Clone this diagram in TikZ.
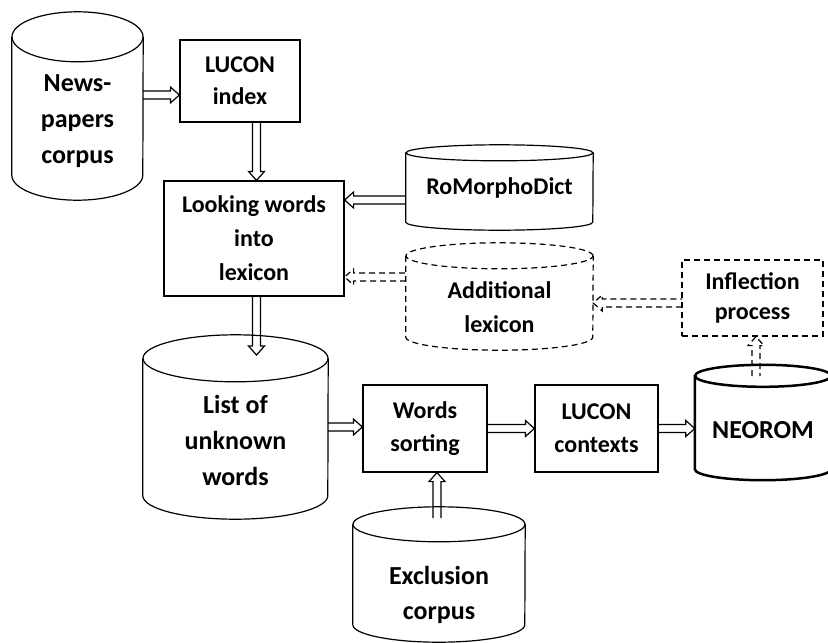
\documentclass[tikz,border=0pt]{standalone}
\usepackage{fontspec}
\setmainfont{Carlito}
\usetikzlibrary{calc}
\tikzset{
  box/.style       = {draw,line width=1.2pt,align=center,inner sep=0pt},
  maybe/.style     = {dash pattern=on 6pt off 4pt},
  big/.style       = {font=\bfseries\fontsize{26}{36}\selectfont},
  mid/.style       = {font=\bfseries\fontsize{24}{33}\selectfont},
  drumline/.style  = {line width=1.2pt},
  drumtext/.style  = {align=center,inner sep=0pt},
  % hollow block arrow: shaft half width 4pt, head half width 8pt, head length 9pt
  flow/.style      = {draw,line width=1.2pt,line join=miter,to path={
      ($(\tikztostart)!4pt!90:(\tikztotarget)$)
      -- ($($(\tikztotarget)!9pt!(\tikztostart)$)!4pt!-90:(\tikztostart)$)
      -- ($($(\tikztotarget)!9pt!(\tikztostart)$)!8pt!-90:(\tikztostart)$)
      -- (\tikztotarget)
      -- ($($(\tikztotarget)!9pt!(\tikztostart)$)!8pt!90:(\tikztostart)$)
      -- ($($(\tikztotarget)!9pt!(\tikztostart)$)!4pt!90:(\tikztostart)$)
      -- ($(\tikztostart)!4pt!-90:(\tikztotarget)$)}},
  maybeflow/.style = {flow,maybe}
}
% [line options] name, centre, width, height, cap radius, text drop, text style; text follows
\newcommand{\drum}[8][]{%
  \node[minimum width=#4pt,minimum height=#5pt,inner sep=0pt] (#2) at (#3) {};
  \draw[drumline,#1] ([yshift=-#6pt]#2.north west) -- ([yshift=#6pt]#2.south west)
    arc[start angle=180,end angle=360,x radius=#4pt/2,y radius=#6pt]
    -- ([yshift=-#6pt]#2.north east);
  \draw[drumline,#1] ([yshift=-#6pt]#2.north) ellipse[x radius=#4pt/2,y radius=#6pt];
  \node[drumtext,#8] (#2-t) at ([yshift=-#7pt]#2.center)}
\begin{document}
\begin{tikzpicture}[x=1pt,y=-1pt]
  \useasboundingbox (0,0) rectangle (828,643);
  % sources and lexicons
  \drum{news}{77.5,106}{131}{188}{25}{15}{big}{News-\\papers\\corpus};
  \node[box,font=\bfseries\fontsize{24}{32}\selectfont,minimum width=120pt,minimum height=82pt] (lucidx) at (240,81) {LUCON\\index};
  \node[box,font=\bfseries\fontsize{24}{34}\selectfont,minimum width=180pt,minimum height=115pt] (look) at (254,238.5) {Looking words\\into\\lexicon};
  \drum{romd}{499.5,187.5}{187}{85}{8}{0}{mid}{RoMorphoDict};
  \drum[maybe]{addlex}{499.5,296.5}{187}{107}{13}{11}{font=\bfseries\fontsize{24}{34}\selectfont}{Additional\\lexicon};
  \node[box,maybe,font=\bfseries\fontsize{24}{30}\selectfont,minimum width=141pt,minimum height=76pt] (infl) at (752.5,298) {Inflection\\process};
  % results
  \drum{list}{235.5,427}{185}{184}{23.5}{13}{big}{List of\\unknown\\words};
  \node[box,mid,minimum width=124pt,minimum height=87pt] (sort) at (425,428.5) {Words\\sorting};
  \node[box,mid,minimum width=123pt,minimum height=87pt] (luccon) at (596.5,428.5) {LUCON\\contexts};
  \drum[line width=2.5pt]{neorom}{763,422.5}{136}{115}{11}{8}{big}{NEOROM};
  \drum{excl}{439,574.5}{172}{135}{17.5}{20}{font=\bfseries\fontsize{26}{35}\selectfont}{Exclusion\\corpus};
  % arrow ends
  \coordinate (spine) at (256.5,0);
  \coordinate (newsout) at (143,95);
  \coordinate (romdout) at (406,200);
  \coordinate (addout) at (406,277);
  \coordinate (inflout) at (682,303);
  \coordinate (listin) at (256.5,355);
  \coordinate (neoout) at (756,376);
  \coordinate (exclout) at (437,518);
  % connectors
  \path[flow] (newsout) to (newsout -| lucidx.west);
  \path[flow] (lucidx.south -| spine) to (look.north -| spine);
  \path[flow] (romdout) to (romdout -| look.east);
  \path[maybeflow] (addout) to (addout -| look.east);
  \path[maybeflow] (inflout) to (inflout -| addlex.east);
  \path[maybeflow] (neoout) to (infl.south -| neoout);
  \path[flow] (look.south -| spine) to (listin);
  \path[flow] (list.east) to (list.east -| sort.west);
  \path[flow] (sort.east) to (luccon.west);
  \path[flow] (luccon.east) to (luccon.east -| neorom.west);
  \path[flow] (exclout) to (sort.south -| exclout);
\end{tikzpicture}
\end{document}
